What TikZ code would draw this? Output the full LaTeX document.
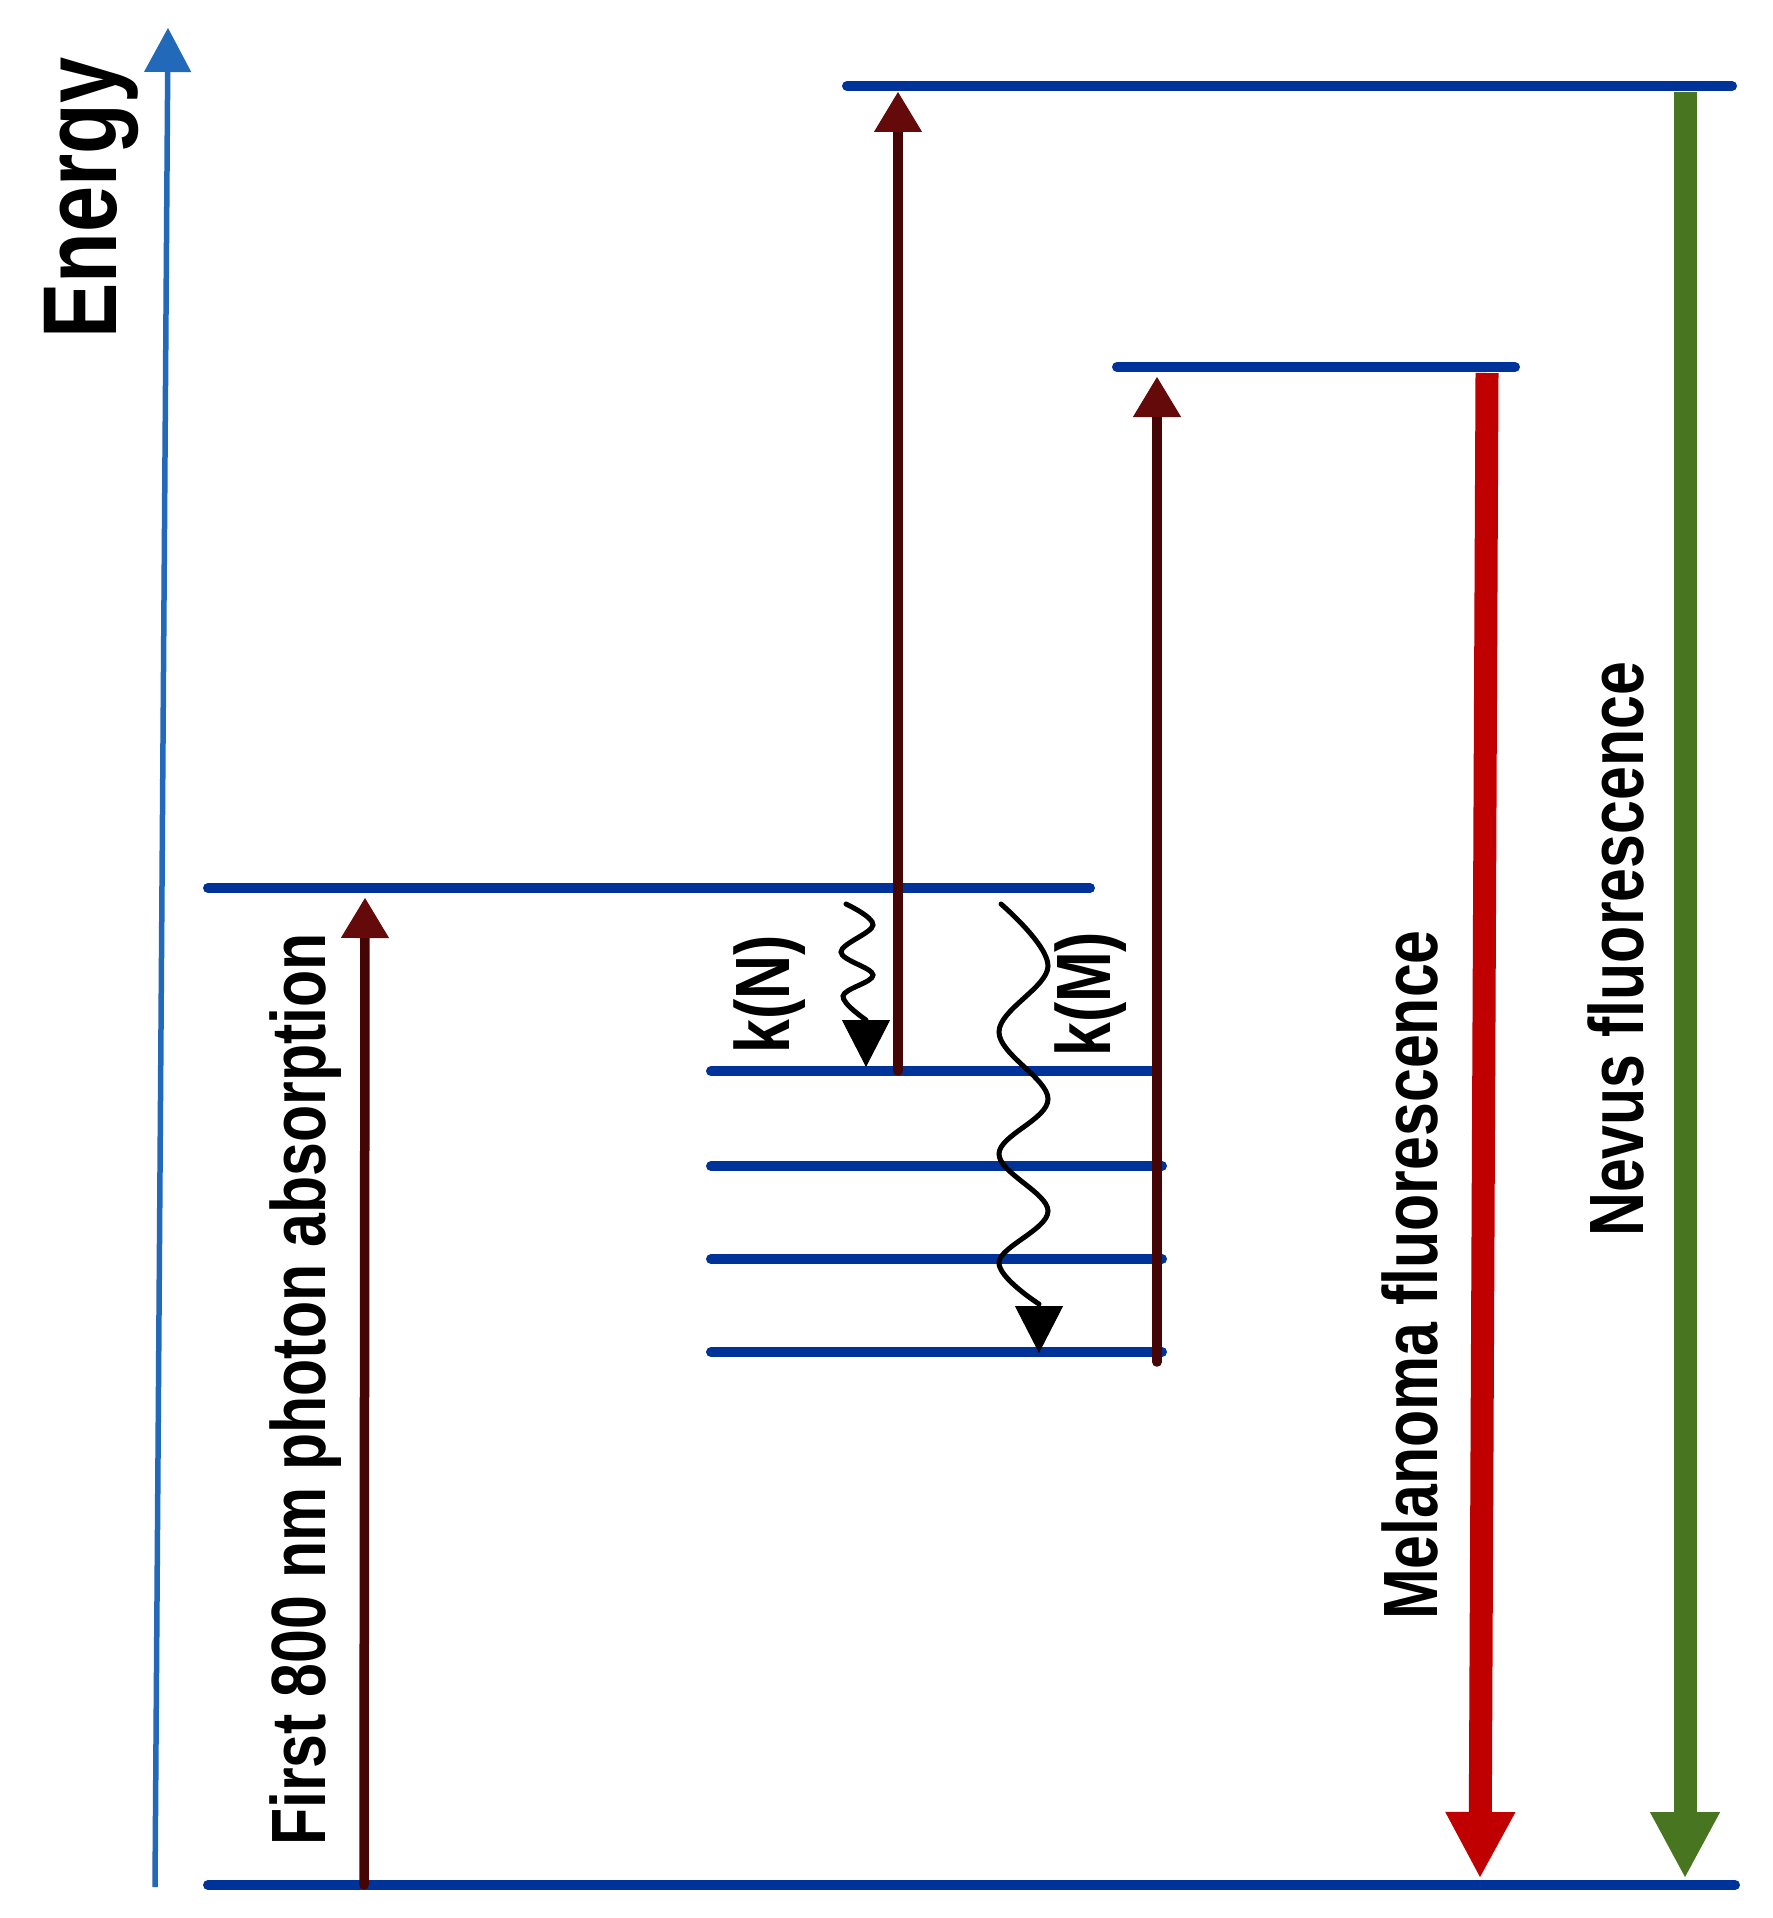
\documentclass[tikz,border=0pt]{standalone}
\usepackage{fontspec}
\setmainfont{Liberation Sans}[FakeStretch=0.79]
\usetikzlibrary{arrows.meta}
\definecolor{lvblue}{RGB}{0,51,153}
\definecolor{axblue}{RGB}{35,105,185}
\definecolor{maroon}{RGB}{70,5,5}
\definecolor{maroonhead}{RGB}{100,10,10}
\definecolor{melred}{RGB}{192,0,0}
\definecolor{nevgreen}{RGB}{72,118,32}
\begin{document}
\begin{tikzpicture}[x=1pt,y=-1pt,
  level/.style={lvblue,line width=10pt,line cap=round},
  absorb/.style={maroon,line width=9.5pt,line cap=round,
    -{Triangle[width=48pt,length=40pt,line width=1pt,color=maroonhead]}},
  fluor/.style={line width=23pt,
    -{Triangle[width=70pt,length=65pt,line width=1pt]}},
  wig/.style={black,line width=5pt,line cap=round},
  wighead/.style={-{Triangle[width=48pt,length=47pt,line width=1pt]},line width=0.1pt},
  lab/.style={rotate=90,anchor=base west,inner sep=0pt,font=\bfseries\fontsize{77pt}{80pt}\selectfont}]
\useasboundingbox (0,0) rectangle (1772,1918);
\fill[white] (0,0) rectangle (1772,1918);
% coordinates
\coordinate (g0) at (208,1885); \coordinate (g1) at (1735,1885);
\coordinate (a0) at (208,888);  \coordinate (a1) at (1090,888);
\coordinate (b0) at (711,1071); \coordinate (b1) at (1152,1071);
\coordinate (c0) at (711,1166); \coordinate (c1) at (1162,1166);
\coordinate (d0) at (711,1259); \coordinate (d1) at (1162,1259);
\coordinate (e0) at (711,1352); \coordinate (e1) at (1162,1352);
\coordinate (m0) at (1117,367); \coordinate (m1) at (1515,367);
\coordinate (t0) at (847,86);   \coordinate (t1) at (1732,86);
% axis
\coordinate (ax0) at (155,1887); \coordinate (ax1) at (168,28);
\draw[axblue,line width=5.5pt,-{Triangle[width=47pt,length=44pt,line width=1pt]}] (ax0) -- (ax1);
\node[lab,font=\bfseries\fontsize{105pt}{110pt}\selectfont] (energy) at (116,339) {Energy};
% fluorescence arrows
\coordinate (melS) at (1487,373); \coordinate (melE) at (1480,1877);
\coordinate (nevS) at (1685,92);  \coordinate (nevE) at (1685,1877);
\draw[fluor,melred] (melS) -- (melE);
\draw[fluor,nevgreen] (nevS) -- (nevE);
% levels
\draw[level] (g0) -- (g1);
\draw[level] (a0) -- (a1);
\draw[level] (b0) -- (b1);
\draw[level] (c0) -- (c1);
\draw[level] (d0) -- (d1);
\draw[level] (e0) -- (e1);
\draw[level] (m0) -- (m1);
\draw[level] (t0) -- (t1);
% absorption arrows
\coordinate (p1s) at (364,1885); \coordinate (p1e) at (365,898);
\coordinate (pNs) at (898,1071); \coordinate (pNe) at (898,92);
\coordinate (pMs) at (1157,1362); \coordinate (pMe) at (1157,377);
\draw[absorb] (p1s) -- (p1e);
\draw[absorb] (pNs) -- (pNe);
\draw[absorb] (pMs) -- (pMe);
% wiggles
\coordinate (kNs) at (846,904); \coordinate (kNb) at (866,1020); \coordinate (kNt) at (866,1067);
\draw[wig] plot[smooth,tension=0.6] coordinates {(kNs) (873,925) (841,952) (873,975) (843,996) (866,1020)};
\draw[wighead] (kNb) -- (kNt);
\coordinate (kMs) at (1001,904); \coordinate (kMb) at (1039,1304); \coordinate (kMt) at (1039,1353);
\draw[wig] plot[smooth,tension=0.6] coordinates {(kMs) (1048,966) (999,1032) (1048,1099) (999,1154) (1048,1211) (999,1262) (1039,1304)};
\draw[wighead] (kMb) -- (kMt);
% labels
\node[lab] (first) at (325,1846) {First 800 nm photon absorption};
\node[lab] (kN) at (789,1054) {k(N)};
\node[lab] (kM) at (1110,1057) {k(M)};
\node[lab] (mel) at (1437,1620) {Melanoma fluorescence};
\node[lab] (nev) at (1643,1237) {Nevus fluorescence};
\end{tikzpicture}
\end{document}
